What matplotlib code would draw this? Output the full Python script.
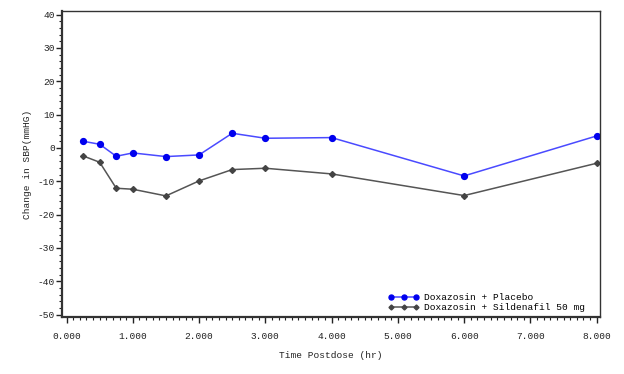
import matplotlib
matplotlib.use("Agg")
import matplotlib.pyplot as plt
from matplotlib.ticker import MultipleLocator, FormatStrFormatter

time_hr = [0.25, 0.5, 0.75, 1.0, 1.5, 2.0, 2.5, 3.0, 4.0, 6.0, 8.0]
placebo = [2.0, 1.1, -2.5, -1.5, -2.6, -2.1, 4.4, 2.9, 3.1, -8.4, 3.6]
sildenafil = [-2.4, -4.3, -12.1, -12.4, -14.4, -9.9, -6.5, -6.1, -7.8, -14.3, -4.6]
labels = ["Doxazosin + Placebo", "Doxazosin + Sildenafil 50 mg"]

font = "Liberation Mono"
fs = 6.8

fig = plt.figure(figsize=(6.24, 3.74), dpi=100)
ax = fig.add_axes([0.0994, 0.1524, 0.8621, 0.8182])

ax.plot(time_hr, placebo, color="#4a4aff", lw=1.1, marker="o", ms=4.2,
        mfc="#0000ee", mec="#0000ee", label=labels[0])
ax.plot(time_hr, sildenafil, color="#555555", lw=1.1, marker="D", ms=3,
        mfc="#444444", mec="#444444", label=labels[1])

ax.set_xlim(-0.068, 8.05)
ax.set_ylim(-50.75, 41.1)
ax.xaxis.set_major_locator(MultipleLocator(1))
ax.xaxis.set_minor_locator(MultipleLocator(0.1))
ax.yaxis.set_major_locator(MultipleLocator(10))
ax.yaxis.set_minor_locator(MultipleLocator(2))
ax.xaxis.set_major_formatter(FormatStrFormatter("%.3f"))
ax.yaxis.set_major_formatter(FormatStrFormatter("%d"))

ax.tick_params(axis="both", which="major", direction="out", length=4, width=1,
               labelsize=fs, colors="#222222", pad=2)
ax.tick_params(axis="both", which="minor", direction="out", length=2.5, width=0.8,
               colors="#222222")
for lab in ax.get_xticklabels() + ax.get_yticklabels():
    lab.set_fontfamily(font)
ax.tick_params(axis="x", pad=7)
ax.tick_params(axis="y", pad=1)

for s in ax.spines.values():
    s.set_color("#333333")
    s.set_linewidth(1.0)
ax.spines["bottom"].set_linewidth(1.6)
ax.spines["left"].set_linewidth(1.6)

ax.set_xlabel("Time Postdose (hr)", fontfamily=font, fontsize=fs, labelpad=7, color="#222222")
ax.set_ylabel("Change in SBP(mmHG)", fontfamily=font, fontsize=fs, labelpad=4, color="#222222")

leg = ax.legend(loc="lower right", bbox_to_anchor=(0.985, -0.005), frameon=False,
                prop={"family": font, "size": fs}, numpoints=3, handlelength=3.2,
                handletextpad=0.6, labelspacing=0.1, borderaxespad=0.3,
                markerscale=0.85)

fig.savefig("out.png", dpi=100)
